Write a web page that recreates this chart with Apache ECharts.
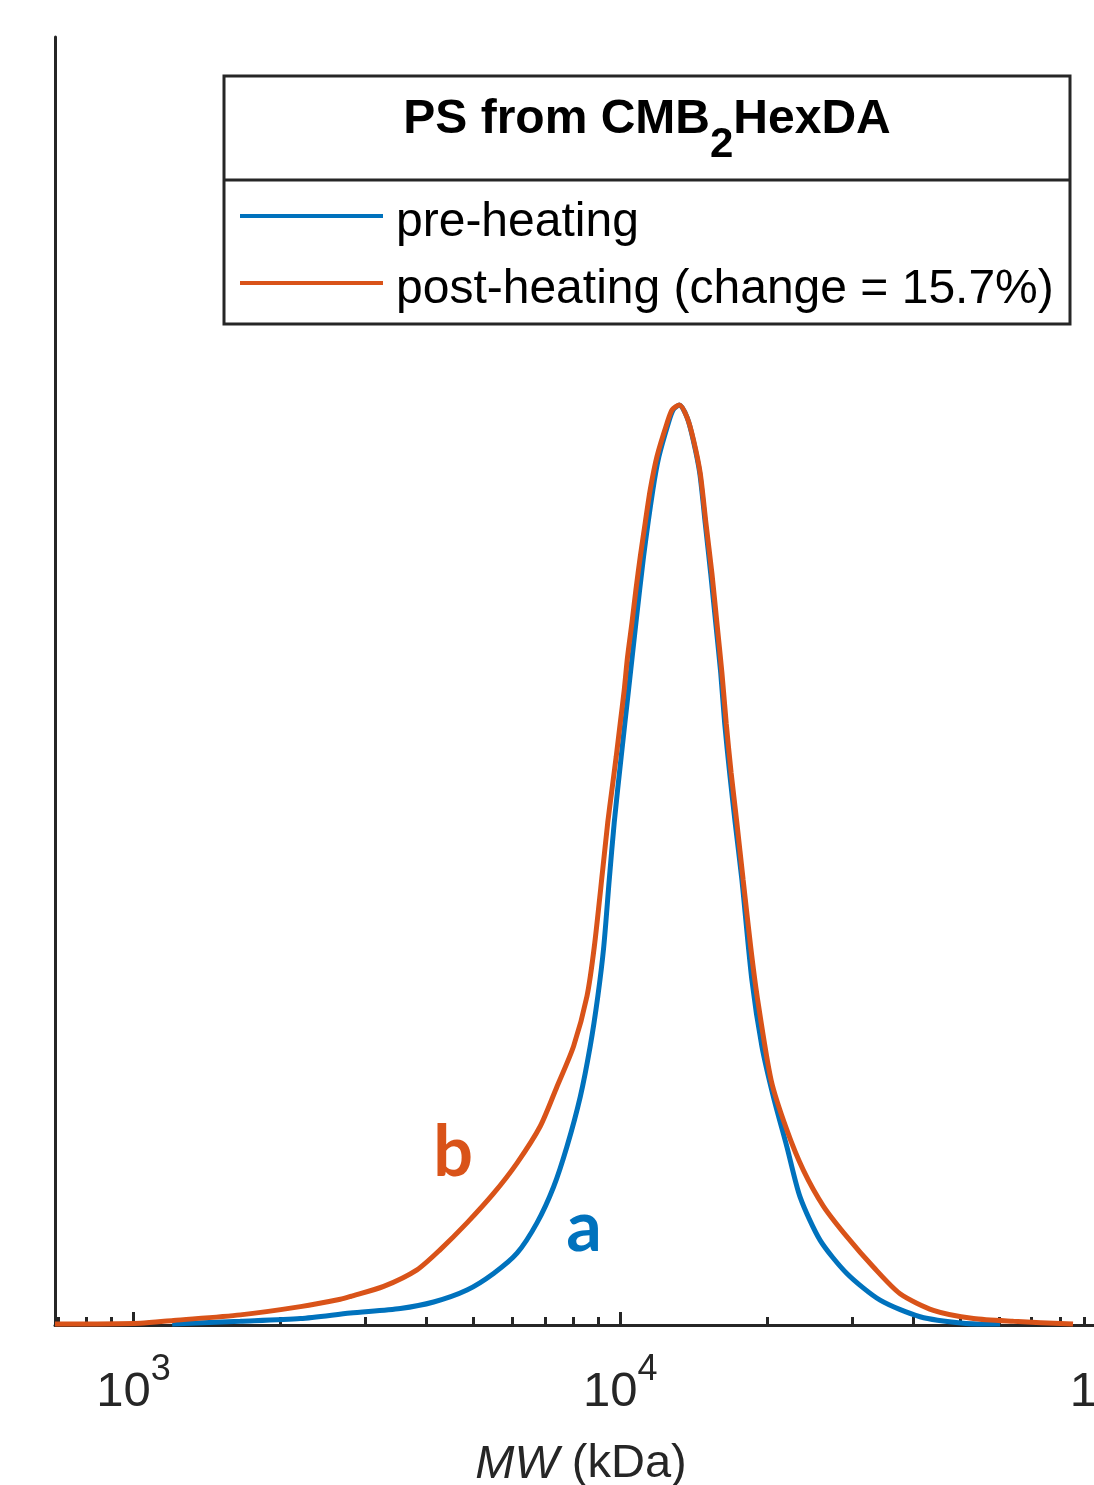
<!DOCTYPE html>
<html><head><meta charset="utf-8">
<script src="https://cdn.jsdelivr.net/npm/echarts@6/dist/echarts.min.js"></script>
<style>html,body{margin:0;padding:0;background:#fff}#c{width:1094px;height:1485px}</style>
</head><body><div id="c"></div>
<script>
// ---------- data ----------
const seriesNames = ['pre-heating', 'post-heating (change = 15.7%)'];
const curveLabels = ['a', 'b'];
const titleParts = ['PS from CMB', '2', 'HexDA'];
const axisTitleParts = ['MW', '(kDa)'];

// pre-heating (a) : molecular weight (kDa) and normalised signal
const preMW = [1201, 1658, 2203, 2790, 3534, 4137, 4844, 5493, 6137, 6745, 7295, 7773, 8277, 8676, 8993, 9250, 9494, 9720, 10047, 10400, 10770, 11166, 11672, 12010, 12550, 12850, 13238, 13730, 14122, 14566, 14945, 15340, 15710, 16085, 16390, 16780, 17223, 17780, 18640, 19543, 20640, 21993, 23420, 25750, 29214, 34190, 41300, 50690, 60300];
const preVal = [0.001, 0.004, 0.007, 0.013, 0.018, 0.025, 0.038, 0.056, 0.078, 0.111, 0.150, 0.194, 0.248, 0.303, 0.357, 0.411, 0.484, 0.546, 0.618, 0.690, 0.763, 0.835, 0.908, 0.944, 0.980, 0.995, 1.000, 0.986, 0.962, 0.926, 0.872, 0.817, 0.763, 0.709, 0.654, 0.600, 0.546, 0.484, 0.375, 0.303, 0.248, 0.194, 0.139, 0.092, 0.056, 0.027, 0.009, 0.002, 0.001];

// post-heating (b)
const postMW = [690, 1034, 1208, 1658, 2203, 2661, 2790, 3266, 3824, 4269, 4844, 5493, 6137, 6850, 7413, 8020, 8542, 8845, 9206, 9426, 9616, 9813, 10000, 10190, 10351, 10568, 10770, 10993, 11255, 11525, 11897, 12472, 12789, 13238, 13730, 14144, 14600, 14997, 15430, 15800, 16177, 16510, 16900, 17363, 17885, 18535, 19113, 20420, 21993, 23790, 26157, 29214, 33120, 37575, 43990, 53170, 64220, 85150];
const postVal = [0.001, 0.002, 0.005, 0.011, 0.020, 0.028, 0.031, 0.042, 0.060, 0.082, 0.111, 0.143, 0.176, 0.216, 0.259, 0.303, 0.357, 0.411, 0.495, 0.546, 0.582, 0.618, 0.654, 0.690, 0.726, 0.763, 0.799, 0.835, 0.872, 0.908, 0.944, 0.980, 0.995, 1.000, 0.986, 0.962, 0.926, 0.872, 0.817, 0.763, 0.709, 0.654, 0.600, 0.546, 0.484, 0.411, 0.357, 0.266, 0.212, 0.168, 0.129, 0.096, 0.063, 0.034, 0.016, 0.007, 0.004, 0.001];

// axis ticks
const majorTicks = [1000, 10000, 100000];
const minorTicks = [700, 800, 900, 2000, 3000, 4000, 5000, 6000, 7000, 8000, 9000,
                    20000, 30000, 40000, 50000, 60000, 70000, 80000, 90000];

// ---------- chart ----------
const BLUE = '#0072BD', ORANGE = '#D95319', AX = '#262626';
const FONT = "'Liberation Sans', Arial, Helvetica, sans-serif";
const pair = (xs, ys) => xs.map((x, i) => [x, ys[i]]);

const chart = echarts.init(document.getElementById('c'), null, {renderer: 'canvas'});
const xCommon = {type: 'log', logBase: 10, min: 690, max: 100000, gridIndex: 0, position: 'bottom'};

chart.setOption({
  animation: false,
  backgroundColor: '#fff',
  grid: {left: 55, right: -13, top: 37, bottom: 160, containLabel: false, outerBoundsMode: 'none'},
  xAxis: [
    Object.assign({}, xCommon, {
      axisLine: {show: true, lineStyle: {color: AX, width: 3}},
      axisTick: {show: true, inside: true, length: 13, customValues: majorTicks, lineStyle: {color: AX, width: 3}},
      axisLabel: {
        show: true, customValues: majorTicks, margin: 27, color: AX,
        formatter: v => '{b|10}{s|' + Math.round(Math.log10(v)) + '}',
        rich: {
          b: {fontSize: 49, fontFamily: FONT, color: AX, lineHeight: 80},
          s: {fontSize: 36, fontFamily: FONT, color: AX, lineHeight: 36, verticalAlign: 'top'}
        }
      },
      splitLine: {show: false},
      name: '{i|' + axisTitleParts[0] + '} {r|' + axisTitleParts[1] + '}',
      nameLocation: 'middle', nameGap: 116,
      nameTextStyle: {
        fontSize: 47, fontFamily: FONT, color: AX,
        rich: {
          i: {fontSize: 47, fontFamily: FONT, fontStyle: 'italic', color: AX},
          r: {fontSize: 47, fontFamily: FONT, color: AX}
        }
      }
    }),
    Object.assign({}, xCommon, {
      axisLine: {show: false},
      axisTick: {show: true, inside: true, length: 8, customValues: minorTicks, lineStyle: {color: AX, width: 3}},
      axisLabel: {show: false},
      splitLine: {show: false}
    })
  ],
  yAxis: {
    type: 'value', min: 0, max: 1.4,
    axisLine: {show: true, lineStyle: {color: AX, width: 3}},
    axisTick: {show: false}, axisLabel: {show: false}, splitLine: {show: false}
  },
  legend: {
    orient: 'vertical', left: 240, top: 185, padding: 0,
    itemWidth: 143, itemHeight: 4, itemGap: 5, icon: 'rect',
    selectedMode: false,
    data: seriesNames,
    formatter: n => '{t|' + n + '}',
    textStyle: {
      fontSize: 48, fontFamily: FONT, color: '#000',
      rich: {t: {fontSize: 48, fontFamily: FONT, color: '#000', lineHeight: 50, padding: [14, 0, 0, 8]}}
    }
  },
  series: [
    {
      name: seriesNames[0], type: 'line', xAxisIndex: 0, yAxisIndex: 0,
      data: pair(preMW, preVal), showSymbol: false, symbol: 'none', smooth: 0.25,
      lineStyle: {color: BLUE, width: 5}, itemStyle: {color: BLUE}, z: 3
    },
    {
      name: seriesNames[1], type: 'line', xAxisIndex: 0, yAxisIndex: 0,
      data: pair(postMW, postVal), showSymbol: false, symbol: 'none', smooth: 0.25,
      lineStyle: {color: ORANGE, width: 5}, itemStyle: {color: ORANGE}, z: 4
    }
  ],
  graphic: [
    {type: 'rect', z: 1, shape: {x: 224, y: 76, width: 846, height: 248},
     style: {fill: '#fff', stroke: AX, lineWidth: 3}},
    {type: 'line', z: 2, shape: {x1: 224, y1: 180, x2: 1070, y2: 180},
     style: {stroke: AX, lineWidth: 3}},
    {type: 'text', z: 5, x: 647, y: 120,
     style: {
       text: '{b|' + titleParts[0] + '}{s|' + titleParts[1] + '}{b|' + titleParts[2] + '}',
       align: 'center', verticalAlign: 'middle',
       rich: {
         b: {fontSize: 48, fontWeight: 'bold', fontFamily: FONT, fill: '#000', lineHeight: 93},
         s: {fontSize: 42, fontWeight: 'bold', fontFamily: FONT, fill: '#000', lineHeight: 42, verticalAlign: 'bottom'}
       }
     }},
    {type: 'text', z: 5, x: 453, y: 1153,
     style: {text: curveLabels[1], fill: ORANGE, fontSize: 70, fontWeight: 'bold', fontFamily: 'Lato, "Open Sans", sans-serif',
             align: 'center', verticalAlign: 'middle'}},
    {type: 'text', z: 5, x: 584, y: 1228,
     style: {text: curveLabels[0], fill: BLUE, fontSize: 70, fontWeight: 'bold', fontFamily: 'Lato, "Open Sans", sans-serif',
             align: 'center', verticalAlign: 'middle'}}
  ]
});
</script></body></html>
